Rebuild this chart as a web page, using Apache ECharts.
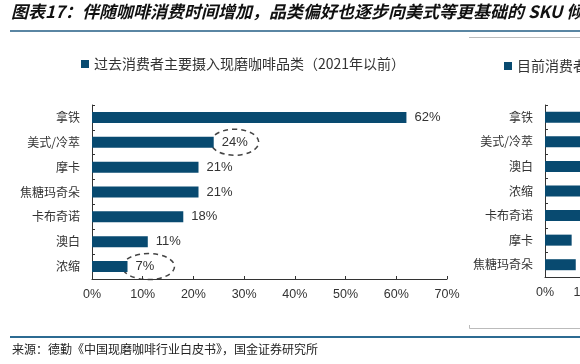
<!DOCTYPE html>
<html>
<head>
<meta charset="utf-8">
<script src="https://cdn.jsdelivr.net/npm/echarts@6/dist/echarts.min.js"></script>
<style>
html,body{margin:0;padding:0;background:#fff;}
#c1{width:580px;height:364px;}
</style>
</head>
<body>
<div id="c1"></div>
<script type="text/javascript">
// 左图：过去（2021年以前）
var pastCats = ['拿铁', '美式/冷萃', '摩卡', '焦糖玛奇朵', '卡布奇诺', '澳白', '浓缩']
var pastVals = [62, 24, 21, 21, 18, 11, 7]
// 右图：目前（右侧被裁切，只能看到一部分）
var nowCats = ['拿铁', '美式/冷萃', '澳白', '浓缩', '卡布奇诺', '摩卡', '焦糖玛奇朵']
var nowVals = [55, 38, 26, 22, 18, 6.5, 7.5]
// 横轴
var xMin = 0, xMax = 70, xStep = 10
// 需要画圈的数据
var circled = ['美式/冷萃', '浓缩']

var cjk = '"Noto Sans CJK SC", sans-serif'
var num = '"Liberation Sans", Arial, sans-serif'
var barColor = '#084a70'

function xAxisOf(idx){
    return {
        type: 'value', gridIndex: idx, min: xMin, max: xMax, interval: xStep,
        splitLine: {show: false},
        axisLine: {show: true, lineStyle: {color: '#333', width: 1}},
        axisTick: {show: true, inside: true, length: 3, lineStyle: {color: '#333'}},
        axisLabel: {color: '#333', fontFamily: num, fontSize: 12.5, margin: 9,
            formatter: function(v){ return v + '%' }}
    }
}
function yAxisOf(idx, cats){
    return {
        type: 'category', gridIndex: idx, data: cats, inverse: true,
        axisLine: {show: true, lineStyle: {color: '#333', width: 1}},
        axisTick: {show: true, inside: true, length: 3, lineStyle: {color: '#333'}},
        axisLabel: {color: '#333', fontFamily: cjk, fontSize: 12, margin: 12}
    }
}

var chart = echarts.init(document.getElementById('c1'), null, {renderer: 'canvas'})
var option = {
    backgroundColor: '#fff',
    animation: false,
    legend: [{
        data: ['过去消费者主要摄入现磨咖啡品类（2021年以前）'],
        left: 76, top: 52, icon: 'rect', itemWidth: 8, itemHeight: 8,
        textStyle: {color: '#333', fontFamily: cjk, fontSize: 14}
    }, {
        data: ['目前消费者主要摄入现磨咖啡品类（2021年以后）'],
        left: 499, top: 54, icon: 'rect', itemWidth: 8, itemHeight: 8,
        textStyle: {color: '#333', fontFamily: cjk, fontSize: 14}
    }],
    grid: [
        {left: 92, top: 105, width: 355, height: 174, containLabel: false, outerBoundsMode: 'none'},
        {left: 545, top: 105, width: 287, height: 172, containLabel: false, outerBoundsMode: 'none'}
    ],
    xAxis: [xAxisOf(0), xAxisOf(1)],
    yAxis: [yAxisOf(0, pastCats), yAxisOf(1, nowCats)],
    series: [{
        name: '过去消费者主要摄入现磨咖啡品类（2021年以前）',
        type: 'bar', xAxisIndex: 0, yAxisIndex: 0,
        data: pastVals, barWidth: 11,
        itemStyle: {color: barColor},
        label: {show: true, position: 'right', distance: 8, color: '#333',
            fontFamily: num, fontSize: 13, formatter: '{c}%'}
    }, {
        name: '目前消费者主要摄入现磨咖啡品类（2021年以后）',
        type: 'bar', xAxisIndex: 1, yAxisIndex: 1,
        data: nowVals, barWidth: 11,
        itemStyle: {color: barColor},
        label: {show: true, position: 'right', distance: 8, color: '#333',
            fontFamily: num, fontSize: 13, formatter: '{c}%'}
    }]
}
chart.setOption(option)

// 标题、分隔线、来源、虚线圈
var g = [
    {type: 'text', left: 11, top: 3, style: {text: '图表17：伴随咖啡消费时间增加，品类偏好也逐步向美式等更基础的 SKU 倾向',
        fill: '#111', font: 'italic bold 17px ' + cjk}},
    {type: 'line', shape: {x1: 10, y1: 31, x2: 580, y2: 31}, style: {stroke: '#5a86a3', lineWidth: 2}},
    {type: 'line', shape: {x1: 469, y1: 37.5, x2: 580, y2: 37.5}, style: {stroke: '#bbb', lineWidth: 1}},
    {type: 'polyline', shape: {points: [[469.5, 325], [469.5, 328.5], [580, 328.5]]}, style: {stroke: '#bbb', lineWidth: 1, fill: null}},
    {type: 'line', shape: {x1: 10, y1: 337, x2: 580, y2: 337}, style: {stroke: '#2c6b92', lineWidth: 2}},
    {type: 'text', left: 12, top: 343, style: {text: '来源：德勤《中国现磨咖啡行业白皮书》，国金证券研究所',
        fill: '#222', font: '12px ' + cjk}}
]
for(var i = 0; i < circled.length; ++i){
    var k = pastCats.indexOf(circled[i])
    var p = chart.convertToPixel({gridIndex: 0}, [pastVals[k], pastCats[k]])
    g.push({type: 'ellipse', shape: {cx: p[0] + 21, cy: p[1], rx: i === 0 ? 24 : 26, ry: 13},
        style: {fill: null, stroke: '#444', lineWidth: 1.5, lineDash: [5, 4]}})
}
chart.setOption({graphic: g})
</script>
</body>
</html>
